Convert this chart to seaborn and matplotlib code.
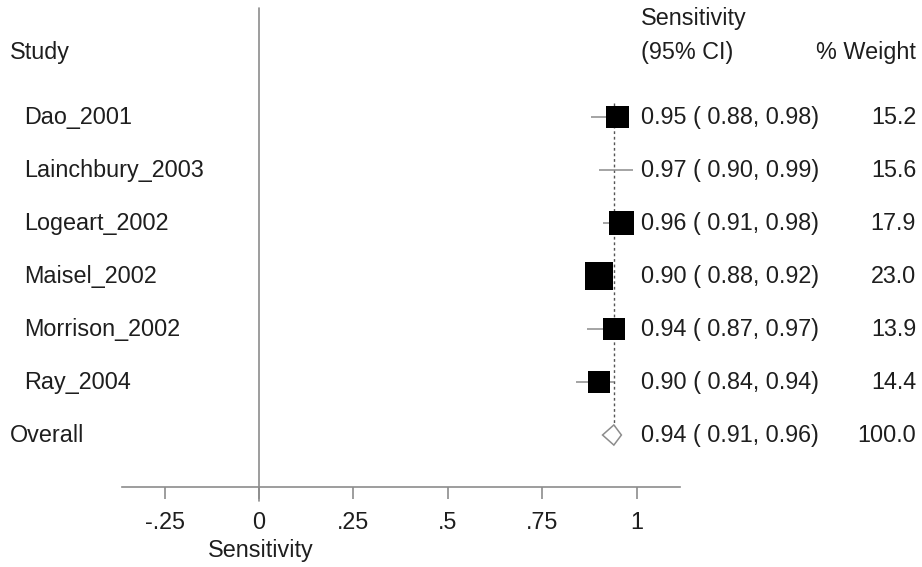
import numpy as np
import pandas as pd
import matplotlib
matplotlib.use('Agg')
import matplotlib.pyplot as plt
from matplotlib.patches import Polygon
import seaborn as sns

#DATA
studies = ['Dao_2001', 'Lainchbury_2003', 'Logeart_2002', 'Maisel_2002', 'Morrison_2002', 'Ray_2004']
sens = [0.95, 0.97, 0.96, 0.90, 0.94, 0.90]
ci_lo = [0.88, 0.90, 0.91, 0.88, 0.87, 0.84]
ci_hi = [0.98, 0.99, 0.98, 0.92, 0.97, 0.94]
weight = [15.2, 15.6, 17.9, 23.0, 13.9, 14.4]
has_box = [True, False, True, True, True, True]
overall_est, overall_lo, overall_hi, overall_w = 0.94, 0.91, 0.96, 100.0
tick_vals = [-0.25, 0, 0.25, 0.5, 0.75, 1]
tick_labels = ['-.25', '0', '.25', '.5', '.75', '1']

df = pd.DataFrame({'study': studies, 'sens': sens, 'lo': ci_lo, 'hi': ci_hi,
                   'weight': weight, 'box': has_box})
df['row'] = np.arange(len(df))
overall_row = len(df)

#STYLE
sns.set_theme(style='white')
plt.rcParams['font.family'] = ['Liberation Sans', 'DejaVu Sans']
fs = 16.8
txt = '#1e1e1e'
grey = '#8c8c8c'

fig = plt.figure(figsize=(9.22, 5.67), dpi=100)
ax = fig.add_axes([122/922, 80/567, 558/922, 479/567])
ax.set_xlim(-0.3629, 1.1152)
ax.set_ylim(6.981, -2.057)

#CI lines
ax.hlines(df['row'], df['lo'], df['hi'], color=grey, lw=1.1, zorder=2)

#Boxes, side ~ sqrt(weight)
boxes = df[df['box']]
side_pt = 5.84 * np.sqrt(boxes['weight']) * 0.72
sns.scatterplot(data=boxes, x='sens', y='row', marker='s', color='black',
                s=side_pt**2, linewidth=0, ax=ax, zorder=3, legend=False)

#Overall diamond
h = 0.19
ax.add_patch(Polygon([(overall_lo, overall_row), (overall_est, overall_row - h),
                      (overall_hi, overall_row), (overall_est, overall_row + h)],
                     closed=True, facecolor='white', edgecolor=grey, lw=1.1, zorder=3))

#Reference lines
ax.plot([overall_est, overall_est], [-0.27, overall_row], color='#555555', lw=1,
        ls=(0, (2, 2)), zorder=1)
ax.plot([0, 0], [-2.057, 7.25], color=grey, lw=1.2, clip_on=False, zorder=1)

#Axis
for s in ['top', 'left', 'right']:
    ax.spines[s].set_visible(False)
ax.spines['bottom'].set_color(grey)
ax.spines['bottom'].set_linewidth(1.2)
ax.set_yticks([])
ax.set_xticks(tick_vals)
ax.set_xticklabels(tick_labels)
ax.tick_params(axis='x', direction='out', length=8.5, width=1.2, color=grey,
               labelsize=fs, labelcolor=txt, pad=9, bottom=True)
ax.set_xlabel('')
ax.set_ylabel('')
ax.text(0.005, 8.18, 'Sensitivity', ha='center', va='center', fontsize=fs, color=txt, clip_on=False)

#Text columns
x_study = -0.6225
x_head = -0.6596
x_est = 1.0119
x_w = 1.7404
ax.text(x_head, -1.226, 'Study', ha='left', va='center', fontsize=fs, color=txt, clip_on=False)
ax.text(x_est, -1.868, 'Sensitivity', ha='left', va='center', fontsize=fs, color=txt, clip_on=False)
ax.text(x_est, -1.226, '(95% CI)', ha='left', va='center', fontsize=fs, color=txt, clip_on=False)
ax.text(x_w, -1.226, '% Weight', ha='right', va='center', fontsize=fs, color=txt, clip_on=False)

for _, r in df.iterrows():
    ax.text(x_study, r['row'], r['study'], ha='left', va='center', fontsize=fs, color=txt, clip_on=False)
    ax.text(x_est, r['row'], f"{r['sens']:.2f} ( {r['lo']:.2f}, {r['hi']:.2f})",
            ha='left', va='center', fontsize=fs, color=txt, clip_on=False)
    ax.text(x_w, r['row'], f"{r['weight']:.1f}", ha='right', va='center', fontsize=fs, color=txt, clip_on=False)

ax.text(x_head, overall_row, 'Overall', ha='left', va='center', fontsize=fs, color=txt, clip_on=False)
ax.text(x_est, overall_row, f"{overall_est:.2f} ( {overall_lo:.2f}, {overall_hi:.2f})",
        ha='left', va='center', fontsize=fs, color=txt, clip_on=False)
ax.text(x_w, overall_row, f"{overall_w:.1f}", ha='right', va='center', fontsize=fs, color=txt, clip_on=False)

fig.savefig('out.png', dpi=100)
